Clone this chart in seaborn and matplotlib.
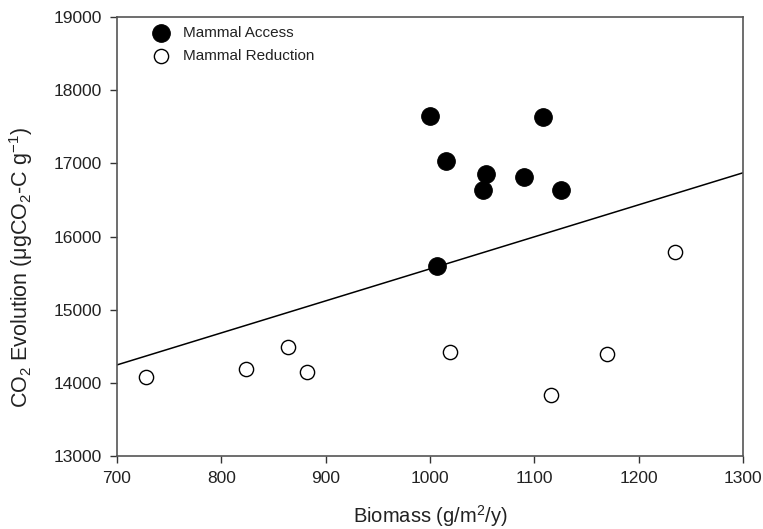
import numpy as np
import pandas as pd
import matplotlib
matplotlib.use("Agg")
import matplotlib.pyplot as plt
import seaborn as sns

# Biomass (g/m2/y) and CO2 evolution for each treatment
access_biomass = [1000, 1108, 1015, 1054, 1051, 1090, 1126, 1007]
access_co2 = [17645, 17640, 17035, 16850, 16630, 16815, 16630, 15590]
reduction_biomass = [728, 824, 864, 882, 1019, 1116, 1170, 1235]
reduction_co2 = [14080, 14185, 14495, 14145, 14425, 13835, 14400, 15790]

x_ticks = [700, 800, 900, 1000, 1100, 1200, 1300]
y_ticks = [13000, 14000, 15000, 16000, 17000, 18000, 19000]

sns.set_theme(style="ticks")
plt.rcParams["font.family"] = ["Liberation Sans", "DejaVu Sans"]
plt.rcParams["mathtext.fontset"] = "custom"
plt.rcParams["mathtext.rm"] = "Liberation Sans"
plt.rcParams["mathtext.it"] = "Liberation Sans:italic"

access = pd.DataFrame({"biomass": access_biomass, "co2": access_co2})
reduction = pd.DataFrame({"biomass": reduction_biomass, "co2": reduction_co2})

W, H = 763, 529
fig = plt.figure(figsize=(W / 100, H / 100), dpi=100)
left, right, top, bottom = 117, 743, 17, 456
ax = fig.add_axes([left / W, 1 - bottom / H, (right - left) / W, (bottom - top) / H])

sns.scatterplot(data=access, x="biomass", y="co2", ax=ax, s=160, color="black",
                edgecolor="black", linewidth=0.8, label="Mammal Access", zorder=3)
sns.scatterplot(data=reduction, x="biomass", y="co2", ax=ax, s=105, facecolor="white",
                edgecolor="black", linewidth=1.0, label="Mammal Reduction", zorder=3)

# Pooled linear regression across both treatments
all_x = np.array(access_biomass + reduction_biomass, dtype=float)
all_y = np.array(access_co2 + reduction_co2, dtype=float)
slope, intercept = np.polyfit(all_x, all_y, 1)
line_x = np.array([x_ticks[0], x_ticks[-1]], dtype=float)
sns.lineplot(x=line_x, y=slope * line_x + intercept, ax=ax, color="black",
             linewidth=1.1, zorder=2, legend=False)

ax.set_xlim(x_ticks[0], x_ticks[-1])
ax.set_ylim(y_ticks[0], y_ticks[-1])
ax.set_xticks(x_ticks)
ax.set_yticks(y_ticks)
ax.tick_params(direction="out", length=5, width=1, colors="#333333",
               labelsize=12.5, labelcolor="#222222", pad=6)
for sp in ax.spines.values():
    sp.set_visible(True)
    sp.set_color("#555555")
    sp.set_linewidth(1.2)

ax.set_xlabel("Biomass (g/m$^2$/y)", fontsize=14.5, color="#222222")
ax.set_ylabel("CO$_2$ Evolution (μgCO$_2$-C g$^{-1}$)", fontsize=15.5,
              color="#222222")
ax.xaxis.set_label_coords(0.5, -(503 - bottom) / (bottom - top))
ax.yaxis.set_label_coords(-(left - 35) / (right - left), 0.43)

leg = ax.legend(loc="upper left", frameon=False, fontsize=11,
                bbox_to_anchor=(0.033, 1.008), handlelength=1.4,
                handletextpad=0.8, labelspacing=0.58, borderaxespad=0.4)
for txt in leg.get_texts():
    txt.set_color("#222222")

fig.savefig("out.png", dpi=100)
